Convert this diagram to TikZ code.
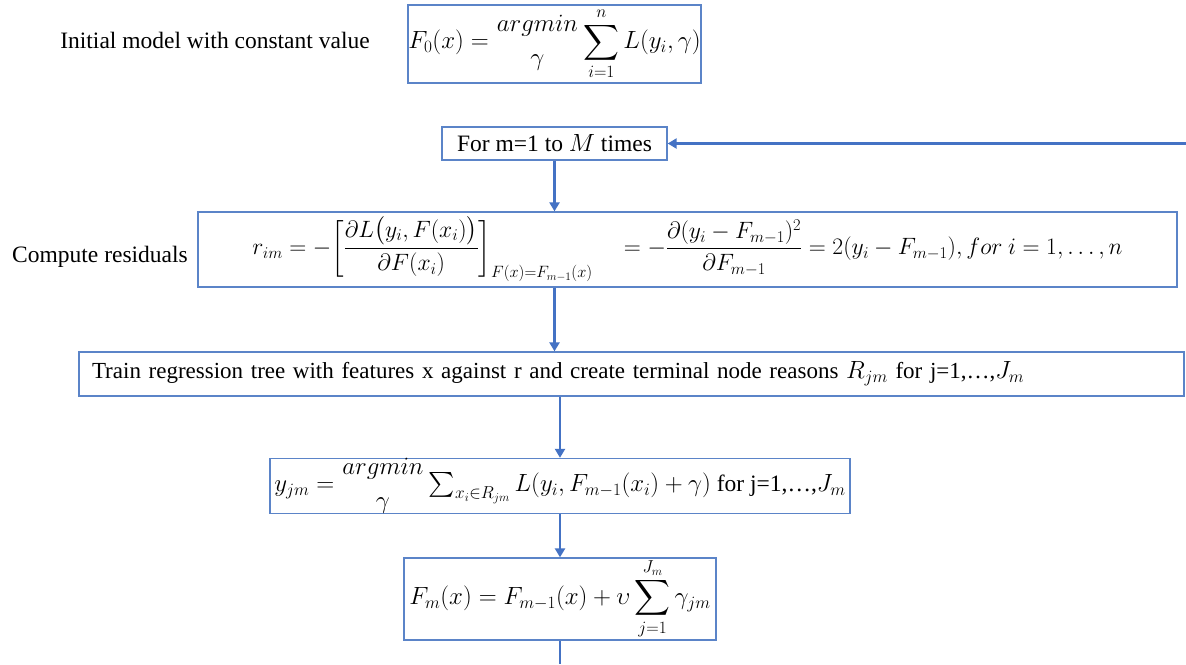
\documentclass[tikz,border=0pt]{standalone}
\usepackage{amsmath}
\usepackage{graphicx}
\usepackage{fontspec}
\setmainfont{Liberation Serif}
\usetikzlibrary{arrows.meta}
\definecolor{boxblue}{HTML}{5B84C8}
\definecolor{arrblue}{HTML}{4472C4}
\tikzset{
  box/.style={draw=boxblue, line width=1.3pt, inner sep=0pt, align=center, fill=white},
  flow/.style={draw=arrblue, line width=2.6pt, -{Triangle[length=9pt,width=10pt]}},
  plain/.style={draw=arrblue, line width=2.6pt},
  lbl/.style={inner sep=0pt, align=center}
}
\newcommand{\amin}{\genfrac{}{}{0pt}{0}{argmin}{\gamma}}
\begin{document}
\begin{tikzpicture}[x=1pt,y=-1pt,font=\fontsize{23.5}{28}\selectfont]
\useasboundingbox (0,0) rectangle (1186,664);
\fill[white] (0,0) rectangle (1186,664);

\node[lbl] (init) at (215,40) {Initial model with constant value};
\node[box, minimum width=293pt, minimum height=78pt] (f0) at (554.5,44)
  {\raisebox{-2pt}{$F_0(x) = \amin\displaystyle\sum_{i=1}^{n} L(y_i,\gamma)$}};

\node[box, minimum width=225pt, minimum height=33pt] (for) at (554.5,143.5)
  {For m=1 to $M$ times};
\coordinate (rt) at (1186,143.5);

\node[lbl] (crl) at (100,257) {Compute residuals};
\node[box, minimum width=979pt, minimum height=75pt] (res) at (687.5,249.5)
  {\scalebox{0.95}{\raisebox{2pt}{$r_{im} = -\biggl[\dfrac{\partial L\bigl(y_i,F(x_i)\bigr)}{\partial F(x_i)}\biggr]_{F(x)=F_{m-1}(x)}\hspace{26pt}
   = -\dfrac{\partial (y_i-F_{m-1})^2}{\partial F_{m-1}} = 2(y_i-F_{m-1}), for\ i=1,\ldots,n$}}};

\node[box, minimum width=1105pt, minimum height=44pt, text width=1079pt, align=left, inner xsep=13pt,
      font=\fontsize{23}{27}\selectfont] (train) at (631.5,374)
  {Train regression tree with features x against r and create terminal node reasons $R_{jm}$ for j=1,…,$J_m$};

\node[box, minimum width=580pt, minimum height=52pt] (yjm) at (560,486)
  {$y_{jm} = \amin\textstyle\sum_{x_i\in R_{jm}} L(y_i,F_{m-1}(x_i)+\gamma)$ for j=1,…,$J_m$};

\node[box, minimum width=312pt, minimum height=82pt] (fm) at (560,599)
  {\raisebox{-2pt}{$F_m(x) = F_{m-1}(x) + \upsilon\displaystyle\sum_{j=1}^{J_m}\gamma_{jm}$}};
\coordinate (bot) at (560,664);

\draw[flow] (rt) -- (for.east);
\draw[flow] (for.south) -- (for.south |- res.north);
\draw[flow] (for.south |- res.south) -- (for.south |- train.north);
\draw[flow] (yjm.north |- train.south) -- (yjm.north);
\draw[flow] (yjm.south) -- (fm.north);
\draw[plain] (fm.south) -- (bot);
\end{tikzpicture}
\end{document}
